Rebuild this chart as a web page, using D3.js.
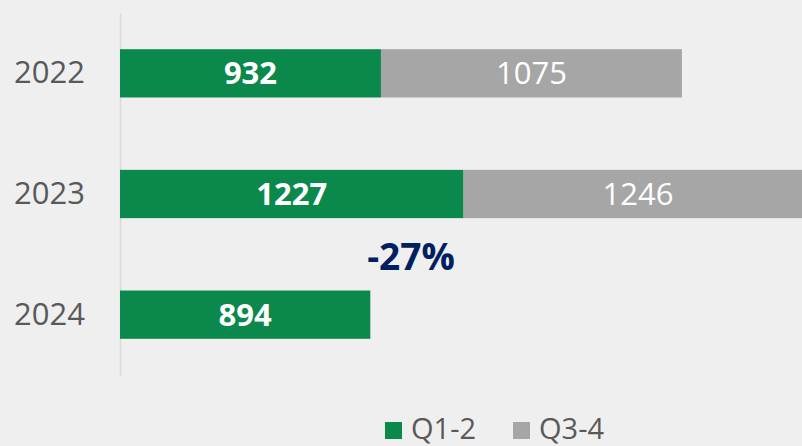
<!DOCTYPE html>
<html>
<head>
<meta charset="utf-8">
<title>Q1-2 vs Q3-4</title>
<script src="https://cdn.jsdelivr.net/npm/d3@7"></script>
<style>
body { margin: 0; background: #efefef; }
svg { display: block; font-family: "Open Sans", "Noto Sans", sans-serif; }
</style>
</head>
<body>
<div id="chart"></div>
<script>
// data
var years = ["2022", "2023", "2024"];
var q12 = [932, 1227, 894];
var q34 = [1075, 1246, 0];
var seriesNames = ["Q1-2", "Q3-4"];
var seriesColors = ["#0b884c", "#a6a6a6"];
var changeLabel = "-27%";

var svgWidth = 802, svgHeight = 446;

var svg = d3.select("#chart").append("svg")
    .attr("width", svgWidth)
    .attr("height", svgHeight);

svg.append("rect")
    .attr("width", svgWidth)
    .attr("height", svgHeight)
    .attr("fill", "#efefef");

var x = d3.scaleLinear().domain([0, 2400]).range([120, 792]);
var y = d3.scaleBand().domain(years).range([13, 375]).paddingInner(0.6).paddingOuter(0.3);

// axis line + year labels
var yAxis = svg.append("g")
    .attr("transform", "translate(120,0)")
    .call(d3.axisLeft(y).tickSize(0).tickPadding(35));
yAxis.select(".domain").attr("stroke", "#d9d9d9").attr("stroke-width", 1.5);
yAxis.selectAll("text")
    .attr("fill", "#595959")
    .style("font-size", "31px")
    .style("font-family", "'Open Sans', sans-serif");

var rows = years.map(function(d, i) { return {year: d, a: q12[i], b: q34[i]}; });

var g = svg.selectAll(".row").data(rows).enter().append("g").attr("class", "row");

g.append("rect")
    .attr("x", x(0))
    .attr("y", function(d) { return y(d.year); })
    .attr("width", function(d) { return x(d.a) - x(0); })
    .attr("height", y.bandwidth())
    .attr("fill", seriesColors[0]);

g.filter(function(d) { return d.b > 0; }).append("rect")
    .attr("x", function(d) { return x(d.a); })
    .attr("y", function(d) { return y(d.year); })
    .attr("width", function(d) { return x(d.a + d.b) - x(d.a); })
    .attr("height", y.bandwidth())
    .attr("fill", seriesColors[1]);

g.append("text")
    .attr("x", function(d) { return (x(0) + x(d.a)) / 2; })
    .attr("y", function(d) { return y(d.year) + y.bandwidth() / 2; })
    .attr("dy", "0.36em")
    .attr("text-anchor", "middle")
    .attr("fill", "#fff")
    .attr("font-weight", "bold")
    .attr("font-size", "31px")
    .text(function(d) { return d.a; });

g.filter(function(d) { return d.b > 0; }).append("text")
    .attr("x", function(d) { return (x(d.a) + x(d.a + d.b)) / 2; })
    .attr("y", function(d) { return y(d.year) + y.bandwidth() / 2; })
    .attr("dy", "0.36em")
    .attr("text-anchor", "middle")
    .attr("fill", "#fff")
    .attr("font-size", "31px")
    .text(function(d) { return d.b; });

// change annotation under 2023
svg.append("text")
    .attr("x", 411)
    .attr("y", 270)
    .attr("text-anchor", "middle")
    .attr("fill", "#002060")
    .attr("font-weight", "bold")
    .attr("font-size", "37px")
    .text(changeLabel);

// legend
var legend = svg.selectAll(".legend").data(seriesNames).enter().append("g")
    .attr("class", "legend")
    .attr("transform", function(d, i) { return "translate(" + (385 + i * 128) + ",0)"; });

legend.append("rect")
    .attr("x", 0)
    .attr("y", 422)
    .attr("width", 17)
    .attr("height", 17)
    .attr("fill", function(d, i) { return seriesColors[i]; });

legend.append("text")
    .attr("x", 26)
    .attr("y", 439)
    .attr("fill", "#595959")
    .attr("font-size", "29px")
    .text(function(d) { return d; });
</script>
</body>
</html>
